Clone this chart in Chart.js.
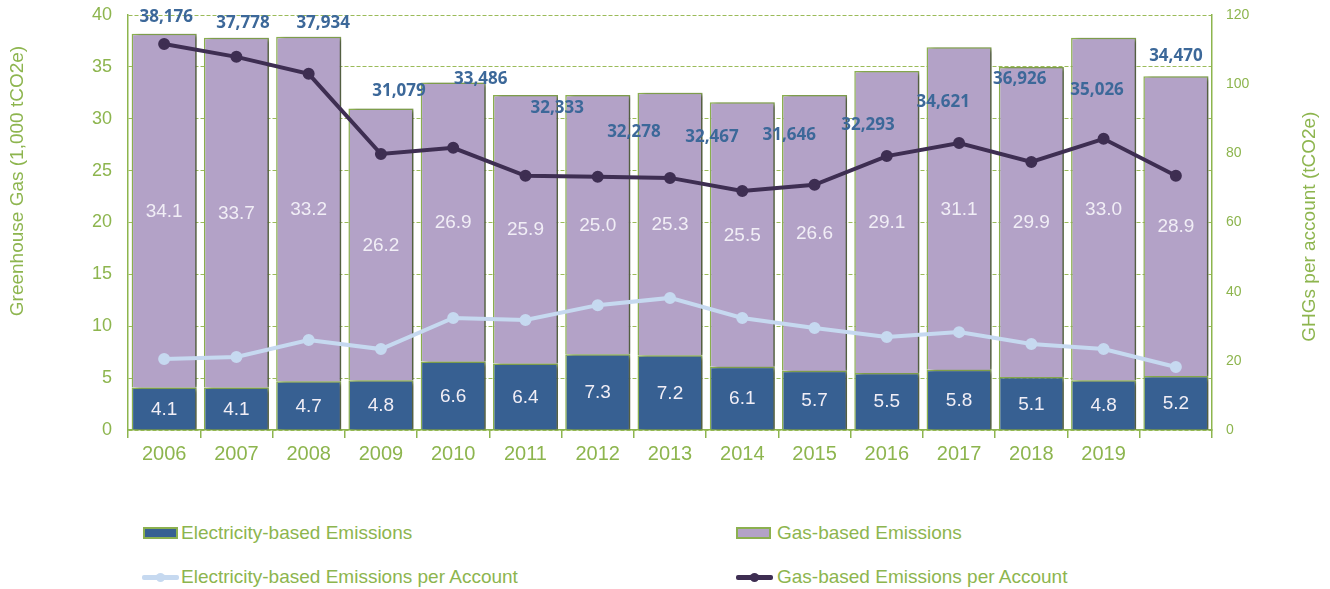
<!DOCTYPE html>
<html>
<head>
<meta charset="utf-8">
<title>Greenhouse Gas Emissions</title>
<script src="https://cdn.jsdelivr.net/npm/chart.js@4.4.1/dist/chart.umd.min.js"></script>
<style>
    body { margin: 0; background: #ffffff; }
    #wrap { position: relative; width: 1330px; height: 589px; overflow: hidden; }
    #chartBox { position: absolute; left: 0; top: 0; width: 1330px; height: 480px; }
    .legend-text {
        position: absolute;
        font-family: "Liberation Sans Narrow", "Liberation Sans", Arial, sans-serif;
        font-size: 19px;
        line-height: 22px;
        color: #8DB54E;
        white-space: nowrap;
    }
    .swatch-box { position: absolute; width: 31px; height: 8px; border: 2px solid #8BB04F; }
    .swatch-line { position: absolute; width: 37px; height: 5px; border-radius: 2px; }
    .swatch-dot { position: absolute; width: 9px; height: 9px; border-radius: 50%; }
</style>
</head>
<body>
<div id="wrap">
    <div id="chartBox"><canvas id="ghgChart"></canvas></div>

    <div class="swatch-box" style="left:143px; top:527px; background:#376092;"></div>
    <div class="legend-text" style="left:181px; top:522px;">Electricity-based Emissions</div>

    <div class="swatch-box" style="left:736px; top:527px; background:#B3A2C7;"></div>
    <div class="legend-text" style="left:777px; top:522px;">Gas-based Emissions</div>

    <div class="swatch-line" style="left:142px; top:575px; background:#C6D9F0;"></div>
    <div class="swatch-dot" style="left:156px; top:573px; background:#C6D9F0;"></div>
    <div class="legend-text" style="left:181px; top:566px;">Electricity-based Emissions per Account</div>

    <div class="swatch-line" style="left:736px; top:575px; background:#3E2E52;"></div>
    <div class="swatch-dot" style="left:750px; top:573px; background:#3E2E52;"></div>
    <div class="legend-text" style="left:777px; top:566px;">Gas-based Emissions per Account</div>
</div>

<script>
// Data
const years = ['2006', '2007', '2008', '2009', '2010', '2011', '2012', '2013', '2014', '2015', '2016', '2017', '2018', '2019', ''];
const electricityEmissions = [4.1, 4.1, 4.7, 4.8, 6.6, 6.4, 7.3, 7.2, 6.1, 5.7, 5.5, 5.8, 5.1, 4.8, 5.2];
const gasEmissions = [34.1, 33.7, 33.2, 26.2, 26.9, 25.9, 25.0, 25.3, 25.5, 26.6, 29.1, 31.1, 29.9, 33.0, 28.9];
const electricityPerAccount = [20.5, 21.1, 26.0, 23.4, 32.4, 31.8, 36.1, 38.2, 32.4, 29.5, 26.9, 28.3, 24.9, 23.4, 18.2];
const gasPerAccount = [111.6, 107.9, 103.0, 79.8, 81.6, 73.5, 73.2, 72.9, 69.1, 70.9, 79.2, 83.0, 77.5, 84.2, 73.5];

// Total labels as printed on the chart, with where they sit (category index, left-axis value)
const totalLabels = ['38,176', '37,778', '37,934', '31,079', '33,486', '32,333', '32,278', '32,467', '31,646', '32,293', '34,621', '36,926', '35,026', '34,470'];
const totalLabelCat = [0.03, 1.09, 2.20, 3.25, 4.38, 5.44, 6.50, 7.58, 8.65, 9.74, 10.78, 11.84, 12.91, 14.0];
const totalLabelY = [39.8, 39.2, 39.2, 32.7, 33.8, 31.0, 28.7, 28.2, 28.4, 29.4, 31.6, 33.8, 32.8, 36.0];

const green = '#8DB54E';
const baseFont = '"Liberation Sans", Arial, sans-serif';

// Grey shadow to the right of each bar
const barShadow = {
    id: 'barShadow',
    beforeDatasetDraw(chart, args) {
        if (args.meta.type !== 'bar') return;
        const c = chart.ctx;
        c.save();
        c.shadowColor = 'rgba(60, 60, 60, 0.7)';
        c.shadowBlur = 4;
        c.shadowOffsetX = 5;
        c.shadowOffsetY = 1;
    },
    afterDatasetDraw(chart, args) {
        if (args.meta.type !== 'bar') return;
        chart.ctx.restore();
    }
};

// Value labels inside the bars, totals, axis titles
const labelsPlugin = {
    id: 'labelsPlugin',
    afterDatasetsDraw(chart) {
        const c = chart.ctx;
        const xs = chart.scales.x;
        const ys = chart.scales.y;
        const area = chart.chartArea;
        c.save();
        c.textAlign = 'center';
        c.textBaseline = 'middle';

        c.font = '19px ' + baseFont;
        c.fillStyle = '#F1EEF6';
        [0, 1].forEach(di => {
            const meta = chart.getDatasetMeta(di);
            meta.data.forEach((bar, i) => {
                const v = chart.data.datasets[di].data[i];
                c.fillText(v.toFixed(1), bar.x, (bar.y + bar.base) / 2 + 1);
            });
        });

        c.font = 'bold 17px "Noto Sans", sans-serif';
        c.fillStyle = '#3C6899';
        totalLabels.forEach((t, i) => {
            c.fillText(t, xs.getPixelForValue(totalLabelCat[i]), ys.getPixelForValue(totalLabelY[i]));
        });

        c.font = '19px ' + baseFont;
        c.fillStyle = green;
        c.save();
        c.translate(18, area.top + area.height * 0.4);
        c.rotate(-Math.PI / 2);
        c.fillText('Greenhouse Gas (1,000 tCO2e)', 0, 0);
        c.restore();
        c.save();
        c.translate(1310, area.top + area.height * 0.51);
        c.rotate(-Math.PI / 2);
        c.fillText('GHGs per account (tCO2e)', 0, 0);
        c.restore();

        c.restore();
    }
};

const ctx = document.getElementById('ghgChart').getContext('2d');
new Chart(ctx, {
    data: {
        labels: years,
        datasets: [
            {
                type: 'bar',
                label: 'Electricity-based Emissions',
                data: electricityEmissions,
                backgroundColor: '#376092',
                borderColor: '#8BB04F',
                borderWidth: 1.5,
                barPercentage: 0.9,
                categoryPercentage: 1.0,
                yAxisID: 'y',
                order: 2,
            },
            {
                type: 'bar',
                label: 'Gas-based Emissions',
                data: gasEmissions,
                backgroundColor: '#B3A2C7',
                borderColor: '#8BB04F',
                borderWidth: 1.5,
                barPercentage: 0.9,
                categoryPercentage: 1.0,
                yAxisID: 'y',
                order: 2,
            },
            {
                type: 'line',
                label: 'Electricity-based Emissions per Account',
                data: electricityPerAccount,
                borderColor: '#C6D9F0',
                backgroundColor: '#C6D9F0',
                borderWidth: 4,
                pointRadius: 4,
                pointHoverRadius: 4,
                tension: 0,
                yAxisID: 'y1',
                order: 1,
            },
            {
                type: 'line',
                label: 'Gas-based Emissions per Account',
                data: gasPerAccount,
                borderColor: '#3E2E52',
                backgroundColor: '#3E2E52',
                borderWidth: 4,
                pointRadius: 4,
                pointHoverRadius: 4,
                tension: 0,
                yAxisID: 'y1',
                order: 0,
            },
        ],
    },
    options: {
        responsive: true,
        maintainAspectRatio: false,
        animation: false,
        layout: { padding: { top: 15, left: 0, right: 0, bottom: 0 } },
        plugins: {
            legend: { display: false },
            tooltip: { enabled: false },
        },
        scales: {
            x: {
                stacked: true,
                offset: true,
                grid: {
                    offset: true,
                    drawOnChartArea: false,
                    drawTicks: true,
                    tickLength: 8,
                    color: green,
                    lineWidth: 1.5,
                },
                border: { color: green, width: 1.5 },
                ticks: {
                    color: green,
                    font: { family: baseFont, size: 20 },
                    padding: 4,
                    maxRotation: 0,
                    autoSkip: false,
                },
                afterFit(s) { s.height = 50; },
            },
            y: {
                stacked: true,
                position: 'left',
                min: 0,
                max: 40,
                ticks: {
                    stepSize: 5,
                    color: green,
                    font: { family: baseFont, size: 18 },
                    padding: 16,
                },
                grid: {
                    color: '#9BBB59',
                    lineWidth: 1,
                    drawTicks: false,
                },
                border: { color: green, width: 1.5, dash: [4, 2] },
                afterFit(s) { s.width = 128; s.paddingTop = 0; s.paddingBottom = 0; },
            },
            y1: {
                position: 'right',
                min: 0,
                max: 120,
                ticks: {
                    stepSize: 20,
                    color: green,
                    font: { family: baseFont, size: 14 },
                    padding: 14,
                },
                grid: { drawOnChartArea: false, drawTicks: false },
                border: { color: green, width: 1.5 },
                afterFit(s) { s.width = 118; s.paddingTop = 0; s.paddingBottom = 0; },
            },
        },
    },
    plugins: [barShadow, labelsPlugin],
});
</script>
</body>
</html>
